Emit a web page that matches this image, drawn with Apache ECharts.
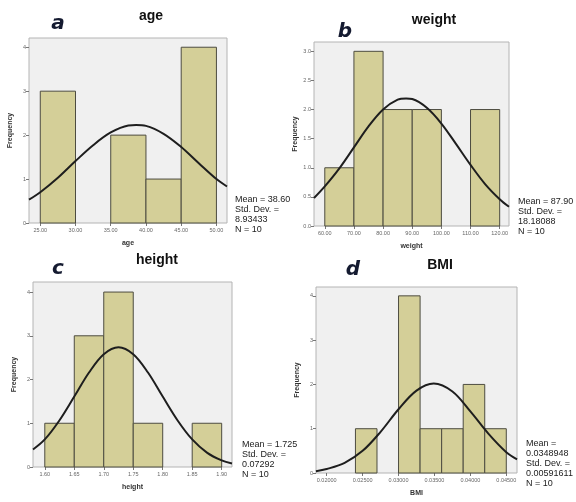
<!DOCTYPE html>
<html>
<head>
    <meta charset="utf-8">
    <title>Histograms</title>
    <script src="https://cdn.jsdelivr.net/npm/echarts@6.0.0/dist/echarts.min.js"></script>
    <style>
        html, body { margin: 0; padding: 0; background: #fff; }
        #main { width: 576px; height: 502px; }
    </style>
</head>
<body>
    <div id="main"></div>
    <script>
        // histogram bins: [from, to, count]
        var ageBins = [[25, 30, 3], [35, 40, 2], [40, 45, 1], [45, 50, 4]];
        var weightBins = [[60, 70, 1], [70, 80, 3], [80, 90, 2], [90, 100, 2], [110, 120, 2]];
        var heightBins = [[1.60, 1.65, 1], [1.65, 1.70, 3], [1.70, 1.75, 4], [1.75, 1.80, 1], [1.85, 1.90, 1]];
        var bmiBins = [[0.024, 0.027, 1], [0.030, 0.033, 4], [0.033, 0.036, 1], [0.036, 0.039, 1], [0.039, 0.042, 2], [0.042, 0.045, 1]];

        // normal curves
        var ageCurveX = [23.4, 25, 27.5, 30, 32.5, 35, 37.5, 38.6, 40, 42.5, 45, 47.5, 50, 51.5];
        var ageCurveY = [0.53, 0.70, 1.03, 1.41, 1.77, 2.06, 2.22, 2.23, 2.21, 2.03, 1.73, 1.36, 1.0, 0.83];
        var weightCurveX = [56.3, 60, 65, 70, 75, 80, 85, 87.9, 90, 95, 100, 105, 110, 115, 120, 123.2];
        var weightCurveY = [0.48, 0.68, 0.99, 1.35, 1.71, 2.00, 2.17, 2.19, 2.18, 2.03, 1.76, 1.41, 1.05, 0.72, 0.46, 0.33];
        var heightCurveX = [1.58, 1.60, 1.625, 1.65, 1.675, 1.70, 1.725, 1.75, 1.775, 1.80, 1.825, 1.85, 1.875, 1.90, 1.9175];
        var heightCurveY = [0.40, 0.63, 1.07, 1.61, 2.16, 2.58, 2.74, 2.58, 2.16, 1.61, 1.07, 0.63, 0.33, 0.15, 0.08];
        var bmiCurveX = [0.0185, 0.020, 0.0225, 0.025, 0.0275, 0.030, 0.0325, 0.0349, 0.0375, 0.040, 0.0425, 0.045, 0.0465];
        var bmiCurveY = [0.04, 0.09, 0.23, 0.50, 0.93, 1.44, 1.86, 2.02, 1.84, 1.39, 0.89, 0.47, 0.31];

        // tick labels
        var ageTicks = [25, 30, 35, 40, 45, 50];
        var weightTicks = [60, 70, 80, 90, 100, 110, 120];
        var heightTicks = [1.60, 1.65, 1.70, 1.75, 1.80, 1.85, 1.90];
        var bmiTicks = [0.020, 0.025, 0.030, 0.035, 0.040, 0.045];
        var countTicks = [0, 1, 2, 3, 4];
        var weightCountTicks = [0, 0.5, 1.0, 1.5, 2.0, 2.5, 3.0];

        var ageStats = ['Mean = 38.60', 'Std. Dev. =', '8.93433', 'N = 10'];
        var weightStats = ['Mean = 87.90', 'Std. Dev. =', '18.18088', 'N = 10'];
        var heightStats = ['Mean = 1.725', 'Std. Dev. =', '0.07292', 'N = 10'];
        var bmiStats = ['Mean =', '0.0348948', 'Std. Dev. =', '0.00591611', 'N = 10'];

        var panels = [
            { name: 'age', letter: 'a', bins: ageBins, cx: ageCurveX, cy: ageCurveY, xt: ageTicks, yt: countTicks,
              xd: 2, yd: 0, xmin: 23.4, xmax: 51.5, ymax: 4.21, stats: ageStats,
              grid: { left: 29, top: 38, width: 198, height: 185 },
              titlePos: [151, 16], letterPos: [58, 24], statsPos: [235, 195] },
            { name: 'weight', letter: 'b', bins: weightBins, cx: weightCurveX, cy: weightCurveY, xt: weightTicks, yt: weightCountTicks,
              xd: 2, yd: 1, xmin: 56.3, xmax: 123.2, ymax: 3.16, stats: weightStats,
              grid: { left: 314, top: 42, width: 195, height: 184 },
              titlePos: [434, 20], letterPos: [345, 32], statsPos: [518, 197] },
            { name: 'height', letter: 'c', bins: heightBins, cx: heightCurveX, cy: heightCurveY, xt: heightTicks, yt: countTicks,
              xd: 2, yd: 0, xmin: 1.580, xmax: 1.9175, ymax: 4.23, stats: heightStats,
              grid: { left: 33, top: 282, width: 199, height: 185 },
              titlePos: [157, 260], letterPos: [58, 269], statsPos: [242, 440] },
            { name: 'BMI', letter: 'd', bins: bmiBins, cx: bmiCurveX, cy: bmiCurveY, xt: bmiTicks, yt: countTicks,
              xd: 5, yd: 0, xmin: 0.01851, xmax: 0.04649, ymax: 4.20, stats: bmiStats,
              grid: { left: 316, top: 287, width: 201, height: 186 },
              titlePos: [440, 265], letterPos: [353, 270], statsPos: [526, 439] }
        ];

        function renderBin(params, api) {
            var topLeft = api.coord([api.value(0), api.value(2)]);
            var bottomRight = api.coord([api.value(1), 0]);
            return {
                type: 'rect',
                shape: {
                    x: topLeft[0],
                    y: topLeft[1],
                    width: bottomRight[0] - topLeft[0],
                    height: bottomRight[1] - topLeft[1]
                },
                style: { fill: '#d4cf98', stroke: '#4d4c40', lineWidth: 1 }
            };
        }

        var option = {
            backgroundColor: '#fff',
            animation: false,
            grid: [], xAxis: [], yAxis: [], series: [], graphic: []
        };

        panels.forEach(function (p, i) {
            option.grid.push({
                left: p.grid.left, top: p.grid.top, width: p.grid.width, height: p.grid.height,
                show: true, backgroundColor: '#f0f0f0', borderColor: '#b4b4b4', borderWidth: 1
            });
            option.xAxis.push({
                type: 'value', gridIndex: i, min: p.xmin, max: p.xmax,
                name: p.name, nameLocation: 'middle', nameGap: 17,
                nameTextStyle: { fontSize: 7, fontWeight: 'bold', color: '#333', fontFamily: 'Liberation Sans' },
                splitLine: { show: false },
                axisLine: { show: false },
                axisTick: { show: true, length: 3, lineStyle: { color: '#777' }, customValues: p.xt },
                axisLabel: {
                    fontSize: 5.5, color: '#666', margin: 4, fontFamily: 'Liberation Sans',
                    customValues: p.xt,
                    formatter: function (v) { return v.toFixed(p.xd); }
                }
            });
            option.yAxis.push({
                type: 'value', gridIndex: i, min: 0, max: p.ymax,
                name: 'Frequency', nameLocation: 'middle', nameGap: 15, nameRotate: 90,
                nameTextStyle: { fontSize: 7, fontWeight: 'bold', color: '#333', fontFamily: 'Liberation Sans' },
                splitLine: { show: false },
                axisLine: { show: false },
                axisTick: { show: true, length: 3, lineStyle: { color: '#777' }, customValues: p.yt },
                axisLabel: {
                    fontSize: 5.5, color: '#666', margin: 3, fontFamily: 'Liberation Sans',
                    customValues: p.yt,
                    formatter: function (v) { return v.toFixed(p.yd); }
                }
            });
            option.series.push({
                type: 'custom', xAxisIndex: i, yAxisIndex: i,
                renderItem: renderBin,
                encode: { x: [0, 1], y: 2 },
                data: p.bins,
                z: 2
            });
            option.series.push({
                type: 'line', xAxisIndex: i, yAxisIndex: i,
                data: p.cx.map(function (x, k) { return [x, p.cy[k]]; }),
                smooth: 0.35, symbol: 'none',
                lineStyle: { color: '#1e1e1e', width: 2 },
                z: 3
            });
            option.graphic.push({
                type: 'text', x: p.titlePos[0], y: p.titlePos[1],
                style: {
                    text: p.name, fill: '#111', font: 'bold 14px "Liberation Sans"',
                    textAlign: 'center', textVerticalAlign: 'middle'
                }
            });
            option.graphic.push({
                type: 'text', x: p.letterPos[0], y: p.letterPos[1],
                style: {
                    text: p.letter, fill: '#141a30', font: 'italic bold 20px "DejaVu Sans"',
                    textAlign: 'center', textVerticalAlign: 'middle'
                }
            });
            option.graphic.push({
                type: 'text', x: p.statsPos[0], y: p.statsPos[1],
                style: {
                    text: p.stats.join('\n'), fill: '#222', font: '9px "Liberation Sans"',
                    lineHeight: 10, textAlign: 'left', textVerticalAlign: 'top'
                }
            });
        });

        var myChart = echarts.init(document.getElementById('main'));
        myChart.setOption(option);
    </script>
</body>
</html>
